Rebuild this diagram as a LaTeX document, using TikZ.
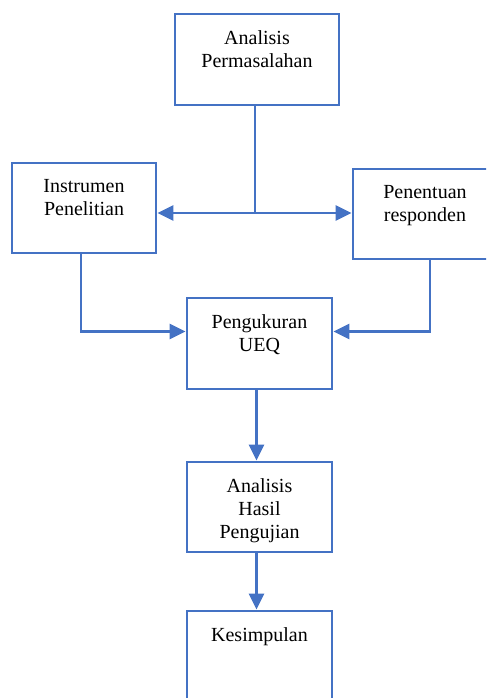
\documentclass[tikz,border=0pt]{standalone}
\usepackage{fontspec}
\setmainfont{Liberation Serif}
\usetikzlibrary{arrows.meta}
\definecolor{boxblue}{RGB}{68, 114, 196}
\newdimen\px
\px=0.75pt

\tikzset{
  stepbox/.style={draw=boxblue, line width=2.8\px, fill=white, inner sep=0pt,
                  minimum width=145\px, minimum height=90\px},
  steptext/.style={anchor=north, align=center, inner sep=0pt,
                   font=\fontsize{15}{17.25}\selectfont},
  flow/.style={draw=boxblue, line width=2.8\px,
               -{Triangle[length=12pt, width=11.25pt]}},
  link/.style={draw=boxblue, line width=2.8\px}
}

\begin{document}
\begin{tikzpicture}[x=1\px, y=-1\px]
  \useasboundingbox (0,0) rectangle (486,698);
  \clip (0,0) rectangle (486,698);

  \node[stepbox, minimum width=164\px, minimum height=91\px] (analisis) at (257, 59.5) {};
  \node[stepbox, minimum width=144\px] (instrumen) at (84, 208) {};
  \node[stepbox, minimum width=144\px] (responden) at (425, 214) {};
  \node[stepbox, minimum height=91\px] (ueq) at (259.5, 343.5) {};
  \node[stepbox] (hasil) at (259.5, 507) {};
  \node[stepbox] (kesimpulan) at (259.5, 656) {};

  \node[steptext] (t1) at ([yshift=-18\px]analisis.north) {Analisis\\Permasalahan};
  \node[steptext] (t2) at ([yshift=-18\px]instrumen.north) {Instrumen\\Penelitian};
  \node[steptext] (t3) at ([yshift=-18\px]responden.north) {Penentuan\\responden};
  \node[steptext] (t4) at ([yshift=-18\px]ueq.north) {Pengukuran\\UEQ};
  \node[steptext] (t5) at ([yshift=-18\px]hasil.north) {Analisis\\Hasil\\Pengujian};
  \node[steptext] (t6) at ([yshift=-18\px]kesimpulan.north) {Kesimpulan};

  \coordinate (split) at (255, 213);
  \draw[link] ([xshift=-2\px]analisis.south) -- (split);
  \draw[flow] (split) -- (split -| instrumen.east);
  \draw[flow] (split) -- (split -| responden.west);

  \draw[flow] ([xshift=-3\px]instrumen.south) |- ([yshift=12\px]ueq.west);
  \draw[flow] ([xshift=5\px]responden.south) |- ([yshift=12\px]ueq.east);
  \draw[flow] ([xshift=-3\px]ueq.south) -- ([xshift=-3\px]hasil.north);
  \draw[flow] ([xshift=-3\px]hasil.south) -- ([xshift=-3\px]kesimpulan.north);
\end{tikzpicture}
\end{document}
